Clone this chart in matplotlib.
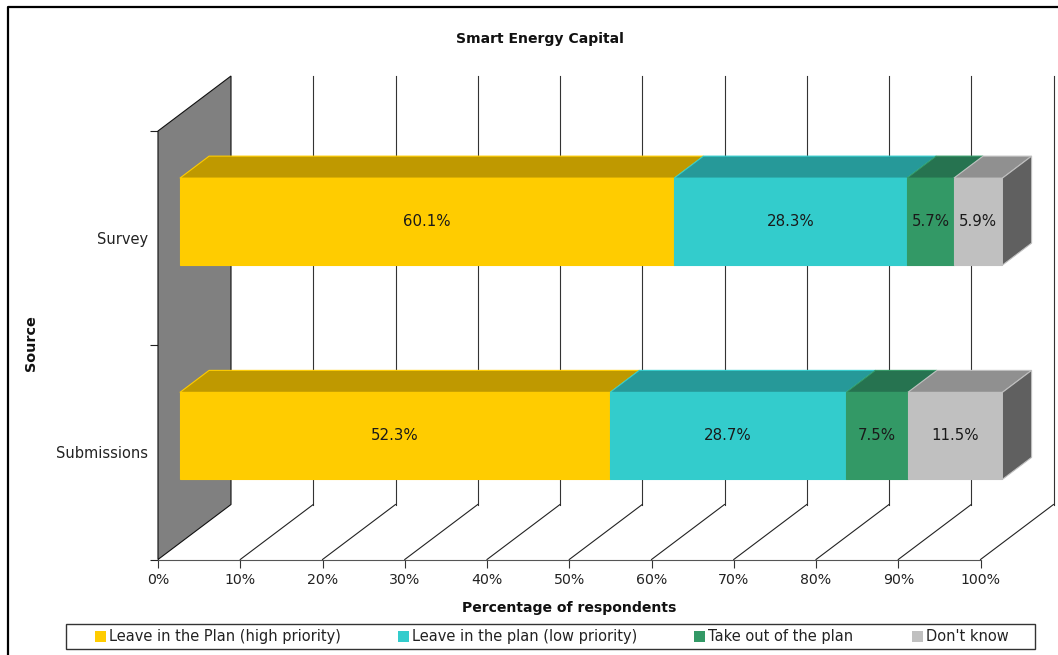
import matplotlib
matplotlib.use("Agg")
import matplotlib.pyplot as plt
from matplotlib.patches import Polygon, Rectangle
from matplotlib.lines import Line2D
from matplotlib.transforms import Affine2D

sources = ["Submissions", "Survey"]
series = ["Leave in the Plan (high priority)", "Leave in the plan (low priority)",
          "Take out of the plan", "Don't know"]
submissions = [52.3, 28.7, 7.5, 11.5]
survey = [60.1, 28.3, 5.7, 5.9]
xticks = [0, 10, 20, 30, 40, 50, 60, 70, 80, 90, 100]

front_colors = ["#FFCC00", "#33CCCC", "#339966", "#C0C0C0"]
top_colors = ["#BF9900", "#269999", "#267350", "#909090"]
side_color = "#606060"

W, H = 1058, 655
DX, DY = 73, 55  # full depth of the 3d box in pixels
BAR_H = 0.406

plt.rcParams["font.family"] = "DejaVu Sans"
plt.rcParams["font.size"] = 10.2

fig = plt.figure(figsize=(W / 100, H / 100), dpi=100)
ax = fig.add_axes([158 / W, (H - 559.5) / H, 822.5 / W, 428.5 / H])
ax.set_xlim(0, 100)
ax.set_ylim(0, 2)


def depth(d):
    return ax.transData + Affine2D().translate(d * DX, d * DY)


def face(pts, d_list, color, edge, z):
    # each corner sits at its own depth, so go through display coords
    disp = [depth(d).transform(p) for p, d in zip(pts, d_list)]
    fig.add_artist(Polygon(disp, closed=True, facecolor=color, edgecolor=edge,
                           linewidth=0.8, transform=None, zorder=z))


# back wall grid and floor lines
for x in xticks[1:]:
    a = depth(1).transform((x, 0))
    b = depth(1).transform((x, 2))
    c = depth(0).transform((x, 0))
    fig.add_artist(Line2D([a[0], b[0]], [a[1], b[1]], color="#333333", lw=0.8,
                          transform=None, zorder=2))
    fig.add_artist(Line2D([c[0], a[0]], [c[1], a[1]], color="#222222", lw=0.8,
                          transform=None, zorder=2))

# left wall
face([(0, 0), (0, 0), (0, 2), (0, 2)], [0, 1, 1, 0], "#808080", "#111111", 3)

# stacked bars
for i, values in enumerate([submissions, survey]):
    y0 = i + 0.5 - BAR_H / 2
    y1 = i + 0.5 + BAR_H / 2
    left = 0
    for j, v in enumerate(values):
        right = left + v
        face([(left, y1), (right, y1), (right, y1), (left, y1)], [0.3, 0.3, 0.7, 0.7],
             top_colors[j], front_colors[j], 4)
        face([(left, y0), (right, y0), (right, y1), (left, y1)], [0.3] * 4,
             front_colors[j], front_colors[j], 5)
        cx, cy = depth(0.3).transform((left + v / 2, i + 0.5))
        fig.text(cx / W, cy / H, f"{v}%", ha="center", va="center", color="#1a1a1a",
                 fontsize=10.8, zorder=7)
        left = right
    face([(left, y0), (left, y1), (left, y1), (left, y0)], [0.3, 0.3, 0.7, 0.7],
         side_color, "#C0C0C0", 6)

# axes
for s in ["top", "right"]:
    ax.spines[s].set_visible(False)
ax.spines["left"].set_color("#555555")
ax.spines["bottom"].set_color("#555555")
ax.patch.set_visible(False)
ax.set_xticks(xticks)
ax.set_xticklabels([f"{x}%" for x in xticks], color="#222222")
ax.tick_params(axis="x", length=5.8, width=0.8, pad=4, color="#333333")
ax.set_yticks([0, 1, 2])
ax.set_yticklabels([])
ax.tick_params(axis="y", which="major", length=5.8, width=0.8, color="#222222")
ax.set_yticks([0.5, 1.5], minor=True)
ax.set_yticklabels(sources, minor=True, color="#222222", fontsize=10.5)
ax.tick_params(axis="y", which="minor", length=0, pad=7)

# titles
fig.text(540 / W, 1 - 39 / H, "Smart Energy Capital", ha="center", va="center",
         fontweight="bold", fontsize=10.1, color="#111111")
fig.text(569 / W, 1 - 608 / H, "Percentage of respondents", ha="center", va="center",
         fontweight="bold", fontsize=10.1, color="#111111")
fig.text(31 / W, 1 - 343 / H, "Source", ha="center", va="center", rotation=90,
         fontweight="bold", fontsize=10.4, color="#111111")

# legend box
fig.add_artist(Rectangle((66 / W, 1 - 649 / H), 969 / W, 25 / H, facecolor="white",
                         edgecolor="#333333", linewidth=1, transform=fig.transFigure))
for label, color, sx in zip(series, front_colors, [95, 398, 694, 912]):
    fig.add_artist(Rectangle((sx / W, 1 - 641.5 / H), 10.5 / W, 10.5 / H, facecolor=color,
                             edgecolor="none", transform=fig.transFigure))
    fig.text((sx + 14) / W, 1 - 636.5 / H, label, ha="left", va="center",
             fontsize=10.5, color="#222222")

# outer frame, open on the right and bottom
fig.add_artist(Line2D([8 / W, 8 / W, 1], [0, 1 - 7 / H, 1 - 7 / H], color="black",
                      lw=1.6, transform=fig.transFigure))

fig.savefig("out.png", dpi=100)
